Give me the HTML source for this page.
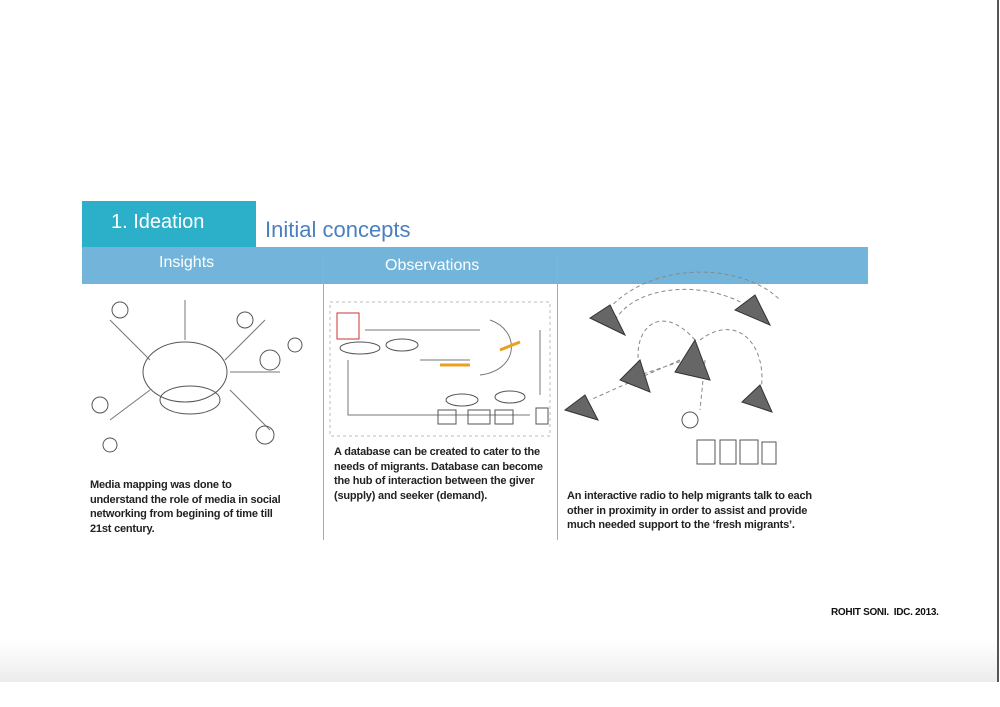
<!DOCTYPE html>
<html><head><style>
body{margin:0;width:1000px;height:707px;background:#fff;position:relative;overflow:hidden;font-family:"Liberation Sans",sans-serif}
.a{position:absolute}
.t{font-size:11px;font-weight:bold;color:#222;line-height:14.5px;letter-spacing:-0.2px}
</style></head><body>
<div class="a" style="left:0;top:640px;width:998px;height:42px;background:linear-gradient(#fff,#ececec)"></div>
<div class="a" style="left:997px;top:0;width:2px;height:682px;background:#555"></div>
<div class="a" style="left:82px;top:201px;width:174px;height:46px;background:#2cb0c9"></div>
<div class="a" style="left:111px;top:211px;color:#fff;font-size:20px">1. Ideation</div>
<div class="a" style="left:265px;top:217px;color:#4a7fc0;font-size:22px">Initial concepts</div>
<div class="a" style="left:82px;top:247px;width:786px;height:37px;background:#72b4da"></div>
<div class="a" style="left:159px;top:254px;color:#fff;font-size:16px">Insights</div>
<div class="a" style="left:385px;top:257px;color:#fff;font-size:16px">Observations</div>
<div class="a" style="left:323px;top:257px;width:1px;height:283px;background:#aaa"></div>
<div class="a" style="left:557px;top:255px;width:1px;height:285px;background:#aaa"></div>
<svg class="a" style="left:0;top:0" width="1000" height="707" fill="none" stroke="#555" stroke-width="1">
<ellipse cx="185" cy="372" rx="42" ry="30"/>
<ellipse cx="190" cy="400" rx="30" ry="14"/>
<path d="M150 360 L110 320 M225 360 L265 320 M150 390 L110 420 M230 390 L270 430 M185 340 L185 300 M230 372 L280 372" stroke="#777"/>
<circle cx="270" cy="360" r="10"/><circle cx="100" cy="405" r="8"/><circle cx="120" cy="310" r="8"/><circle cx="245" cy="320" r="8"/><circle cx="265" cy="435" r="9"/><circle cx="295" cy="345" r="7"/><circle cx="110" cy="445" r="7"/>
<rect x="330" y="302" width="220" height="134" stroke="#bbb" stroke-dasharray="3 3"/>
<rect x="337" y="313" width="22" height="26" stroke="#c33"/>
<ellipse cx="360" cy="348" rx="20" ry="6"/><ellipse cx="402" cy="345" rx="16" ry="6"/><ellipse cx="462" cy="400" rx="16" ry="6"/><ellipse cx="510" cy="397" rx="15" ry="6"/>
<path d="M348 360 L348 415 L530 415 M365 330 L480 330 M420 360 L470 360 M490 320 C520 330 520 370 480 375 M540 330 L540 395" stroke="#777"/>
<path d="M440 365 L470 365 M520 342 L500 350" stroke="#e9a020" stroke-width="3"/>
<rect x="438" y="410" width="18" height="14"/><rect x="468" y="410" width="22" height="14"/><rect x="495" y="410" width="18" height="14"/><rect x="536" y="408" width="12" height="16"/>
<path d="M615 320 C640 280 720 280 760 315 M695 340 C660 300 630 330 640 370 M700 340 C740 310 770 350 760 395 M680 360 L590 400 M700 355 L640 375 M705 360 L700 410 M600 320 C640 260 740 260 780 300" stroke="#888" stroke-dasharray="4 3"/>
<path d="M590 318 L610 305 L625 335 Z M735 310 L755 295 L770 325 Z M675 372 L695 340 L710 380 Z M620 380 L640 360 L650 392 Z M565 410 L585 395 L598 420 Z M742 402 L760 385 L772 412 Z" fill="#666" stroke="#333"/>
<circle cx="690" cy="420" r="8"/>
<rect x="697" y="440" width="18" height="24"/><rect x="720" y="440" width="16" height="24"/><rect x="740" y="440" width="18" height="24"/><rect x="762" y="442" width="14" height="22"/>
</svg>
<div class="a t" style="left:90px;top:478px;width:200px">Media mapping was done to<br>understand the role of media in social<br>networking from begining of time till<br>21st century.</div>
<div class="a t" style="left:334px;top:445px;width:230px">A database can be created to cater to the<br>needs of migrants. Database can become<br>the hub of interaction between the giver<br>(supply) and seeker (demand).</div>
<div class="a t" style="left:567px;top:489px;width:280px">An interactive radio to help migrants talk to each<br>other in proximity in order to assist and provide<br>much needed support to the ‘fresh migrants’.</div>
<div class="a" style="left:831px;top:607px;font-size:10px;font-weight:bold;color:#111;letter-spacing:-0.3px">ROHIT SONI.&nbsp; IDC. 2013.</div>
</body></html>
